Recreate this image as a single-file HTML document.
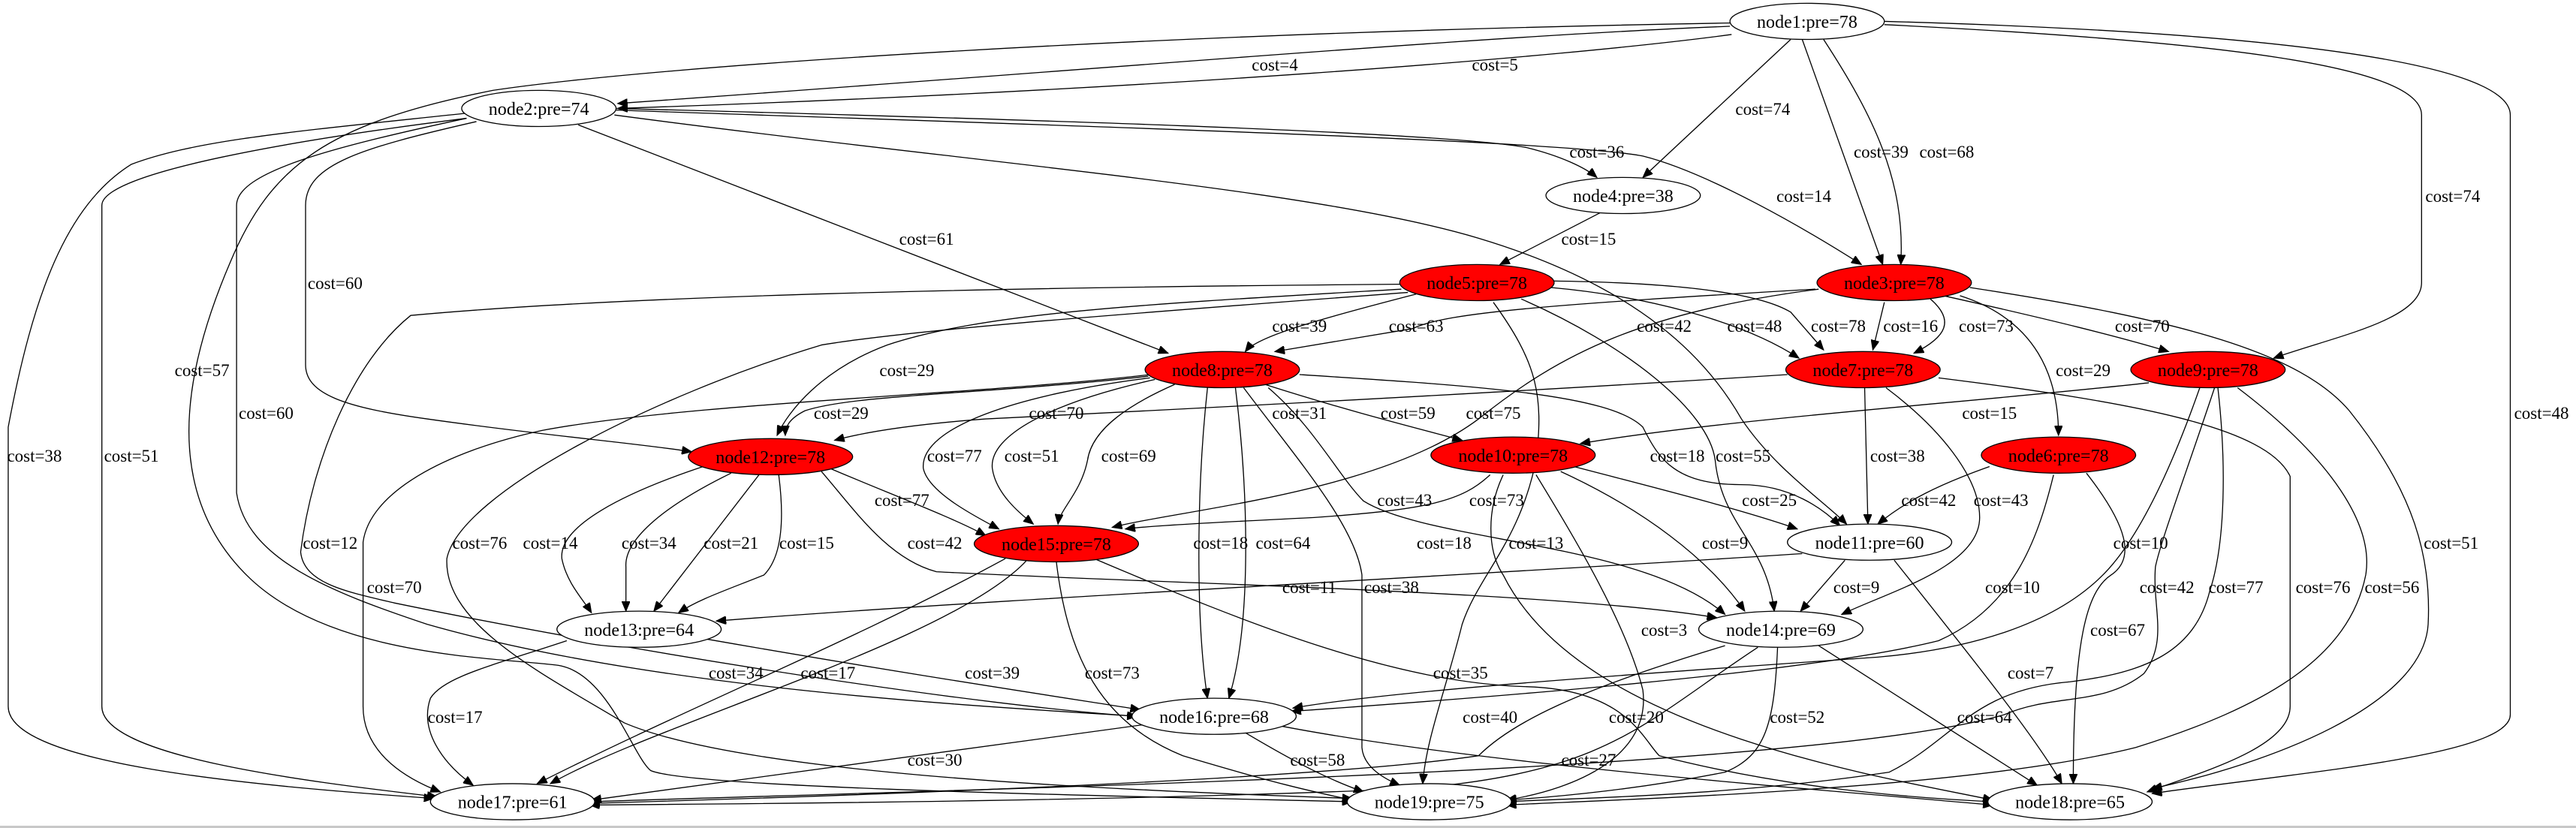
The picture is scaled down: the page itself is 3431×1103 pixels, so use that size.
<!DOCTYPE html>
<html><head><meta charset="utf-8"><style>
html,body{margin:0;padding:0;background:#fff;width:3431px;height:1103px;overflow:hidden}
svg{display:block}
text{font-family:"Liberation Serif",serif;fill:#000}
.l{font-size:10.5px;text-anchor:middle}
.n{font-size:11px;text-anchor:middle}
path{fill:none;stroke:#000;stroke-width:0.6}
ellipse{stroke:#000;stroke-width:0.6}
</style></head><body>
<svg width="3431" height="1103" viewBox="0 0 1568 504" preserveAspectRatio="none" xmlns="http://www.w3.org/2000/svg">
<defs><marker id="a" markerUnits="userSpaceOnUse" markerWidth="7" markerHeight="5" refX="6" refY="2.5" orient="auto"><path d="M0,0 L6,2.5 L0,5 Z" style="fill:#000;stroke:#000;stroke-width:0.5"/></marker></defs>
<rect x="0" y="502.6" width="1568" height="1.4" fill="#c8c8c8"/>
<g marker-end="url(#a)">
<path d="M1053,16 C900,22 700,40 376,63"/>
<path d="M1054,21 C950,35 700,55 376,66"/>
<path d="M1053,14 C700,20 400,40 300,55 C200,75 165,100 140,160 C110,230 100,300 150,350 C200,400 300,400 340,405 C370,410 385,460 396,469 C420,480 700,485 823,488"/>
<path d="M1090,24 L1000,108"/>
<path d="M1097,24 L1146,161"/>
<path d="M1110,24 C1140,70 1160,110 1157,161"/>
<path d="M1147,15 C1350,25 1474,40 1474,70 L1474,172 C1474,195 1420,205 1384,218"/>
<path d="M1147,13 C1400,20 1528,40 1528,70 L1528,435 C1528,460 1400,470 1310,483"/>
<path d="M375,66 C600,72 880,80 930,90 C950,95 965,102 972,108"/>
<path d="M375,67 C600,75 950,85 1000,95 C1040,105 1100,140 1133,161"/>
<path d="M352,76 L711,215"/>
<path d="M290,74 C220,90 186,100 186,125 L186,222 C186,240 210,248 260,255 C330,265 390,270 421,275"/>
<path d="M284,72 C200,90 144,105 144,125 L144,300 C150,340 200,360 260,380 C400,420 600,430 692,436"/>
<path d="M283,69 C180,80 120,85 80,100 C40,125 20,180 5,260 L5,430 C5,465 150,478 264,486"/>
<path d="M284,72 C180,85 62,105 62,125 L62,430 C62,460 180,475 266,485"/>
<path d="M374,70 C600,100 800,115 900,145 C1000,175 1040,220 1060,255 C1080,285 1110,305 1124,319"/>
<path d="M975,129 L913,161"/>
<path d="M862,179 C800,195 765,205 758,214"/>
<path d="M1105,176 C950,185 880,190 860,200 L776,214"/>
<path d="M944,175 C1000,180 1060,195 1095,218"/>
<path d="M944,171 C1020,172 1070,178 1090,190 L1110,213"/>
<path d="M1147,184 L1140,213"/>
<path d="M1175,182 C1190,195 1185,205 1165,215"/>
<path d="M1183,180 C1250,195 1290,205 1320,214"/>
<path d="M1193,180 C1240,195 1253,230 1253,265"/>
<path d="M853,176 C700,185 600,190 540,210 C500,225 480,250 473,265"/>
<path d="M852,173 C600,175 380,180 250,192 C215,220 190,280 183,336 C185,355 210,360 240,367 C400,400 600,430 692,436"/>
<path d="M857,178 C700,190 560,200 500,210 C400,240 280,300 272,340 C270,380 330,410 380,440 C450,470 650,480 823,486"/>
<path d="M926,182 C990,210 1040,250 1044,280 C1048,320 1075,330 1080,372"/>
<path d="M909,184 C935,220 940,240 935,280 C925,330 900,350 890,380 C880,420 868,450 866,477"/>
<path d="M1107,176 C1000,190 950,215 900,255 C840,300 720,310 677,321"/>
<path d="M699,229 C600,240 520,240 490,250 C480,255 478,260 478,265"/>
<path d="M1088,228 C900,240 700,250 600,255 C560,258 530,262 508,268"/>
<path d="M700,230 C620,240 560,260 562,285 C565,300 595,315 608,322"/>
<path d="M703,231 C640,245 602,265 604,285 C606,300 620,312 629,319"/>
<path d="M715,234 C690,245 665,260 662,280 C658,300 645,310 644,319"/>
<path d="M505,285 C540,300 580,315 600,326"/>
<path d="M500,287 C520,310 540,340 570,348 C700,355 950,360 1045,376"/>
<path d="M735,236 C728,300 728,380 735,425"/>
<path d="M752,236 C760,300 762,380 748,425"/>
<path d="M757,236 C790,280 825,320 829,350 L829,455 C830,468 845,475 852,478"/>
<path d="M770,234 C820,250 860,260 890,268"/>
<path d="M772,236 C800,260 815,290 830,305 C870,330 1000,330 1050,374"/>
<path d="M700,228 C600,240 420,245 330,262 C270,275 225,300 221,330 L221,430 C221,460 250,475 268,482"/>
<path d="M791,228 C900,235 980,240 1000,260 C1010,280 1020,295 1060,295 C1090,295 1110,310 1120,320"/>
<path d="M1135,236 L1137,319"/>
<path d="M1148,236 C1180,260 1205,290 1205,315 C1205,345 1150,360 1121,374"/>
<path d="M1180,230 C1300,245 1380,260 1394,290 L1394,430 C1394,455 1340,470 1307,482"/>
<path d="M1199,175 C1330,195 1400,215 1430,250 C1470,300 1480,340 1478,380 C1475,430 1380,465 1310,480"/>
<path d="M1308,233 C1200,245 1050,255 962,270"/>
<path d="M1339,236 C1320,290 1300,330 1280,350 C1250,380 1200,395 1143,400 C1000,410 850,420 787,431"/>
<path d="M1348,236 C1330,290 1315,330 1312,345 C1310,370 1320,390 1305,410 C1280,430 1250,422 1220,435 C1100,470 600,480 359,488"/>
<path d="M1350,236 C1355,280 1355,330 1345,360 C1335,400 1300,410 1260,415 C1200,420 1190,450 1150,470 C1050,485 950,486 917,488"/>
<path d="M1362,236 C1420,280 1445,320 1440,350 C1430,400 1380,430 1300,455 C1200,480 1000,486 917,490"/>
<path d="M428,284 C380,300 340,320 342,340 C345,355 355,365 360,373"/>
<path d="M445,288 C400,310 380,330 381,345 L381,372"/>
<path d="M462,289 L398,372"/>
<path d="M474,289 C478,320 475,340 465,350 C440,360 425,365 413,373"/>
<path d="M907,289 C890,305 870,310 800,315 C740,318 700,320 685,322"/>
<path d="M958,284 C1000,295 1060,310 1094,322"/>
<path d="M950,287 C1000,310 1040,340 1062,372"/>
<path d="M935,289 C960,330 990,380 1000,420 C1005,460 960,480 917,487"/>
<path d="M915,289 C905,310 905,335 915,350 C940,400 1000,430 1060,450 C1120,470 1180,480 1213,487"/>
<path d="M1211,284 C1180,295 1160,305 1143,319"/>
<path d="M1250,289 C1240,330 1225,370 1180,390 C1100,410 900,425 786,433"/>
<path d="M1270,288 C1295,320 1300,340 1285,350 C1270,360 1262,390 1262,477"/>
<path d="M612,340 C520,390 420,430 327,477"/>
<path d="M625,341 C580,390 400,440 335,477"/>
<path d="M643,342 C650,400 670,440 720,460 C780,478 800,482 823,487"/>
<path d="M666,340 C760,380 850,416 930,418 C990,420 1000,450 1010,460 C1080,478 1150,485 1213,488"/>
<path d="M1097,337 C900,350 600,365 436,378"/>
<path d="M1123,341 L1096,372"/>
<path d="M1153,341 C1200,400 1240,450 1255,477"/>
<path d="M345,390 C300,405 270,412 262,425 C255,445 270,465 288,478"/>
<path d="M430,389 C550,410 650,425 694,432"/>
<path d="M1050,393 C960,420 920,440 900,460 C800,475 500,485 359,489"/>
<path d="M1070,394 C1000,440 980,470 860,480 C700,487 500,489 359,490"/>
<path d="M1082,394 C1080,440 1075,460 1050,470 C1000,480 950,485 917,487"/>
<path d="M1107,393 L1240,478"/>
<path d="M697,441 C550,460 450,475 360,487"/>
<path d="M758,446 C790,465 810,475 830,482"/>
<path d="M780,442 C900,465 1100,480 1213,490"/>
</g>
<g>
<ellipse cx="1100" cy="13" rx="47" ry="11" fill="#fff"/><text class="n" x="1100" y="17">node1:pre=78</text>
<ellipse cx="328" cy="66" rx="47" ry="11" fill="#fff"/><text class="n" x="328" y="70">node2:pre=74</text>
<ellipse cx="988" cy="119" rx="47" ry="11" fill="#fff"/><text class="n" x="988" y="123">node4:pre=38</text>
<ellipse cx="1153" cy="172" rx="47" ry="11" fill="#f00"/><text class="n" x="1153" y="176">node3:pre=78</text>
<ellipse cx="899" cy="172" rx="47" ry="11" fill="#f00"/><text class="n" x="899" y="176">node5:pre=78</text>
<ellipse cx="744" cy="225" rx="47" ry="11" fill="#f00"/><text class="n" x="744" y="229">node8:pre=78</text>
<ellipse cx="1134" cy="225" rx="47" ry="11" fill="#f00"/><text class="n" x="1134" y="229">node7:pre=78</text>
<ellipse cx="1344" cy="225" rx="47" ry="11" fill="#f00"/><text class="n" x="1344" y="229">node9:pre=78</text>
<ellipse cx="469" cy="278" rx="50" ry="11" fill="#f00"/><text class="n" x="469" y="282">node12:pre=78</text>
<ellipse cx="921" cy="277" rx="50" ry="11" fill="#f00"/><text class="n" x="921" y="281">node10:pre=78</text>
<ellipse cx="1253" cy="277" rx="47" ry="11" fill="#f00"/><text class="n" x="1253" y="281">node6:pre=78</text>
<ellipse cx="643" cy="331" rx="50" ry="11" fill="#f00"/><text class="n" x="643" y="335">node15:pre=78</text>
<ellipse cx="1138" cy="330" rx="50" ry="11" fill="#fff"/><text class="n" x="1138" y="334">node11:pre=60</text>
<ellipse cx="389" cy="383" rx="50" ry="11" fill="#fff"/><text class="n" x="389" y="387">node13:pre=64</text>
<ellipse cx="1084" cy="383" rx="50" ry="11" fill="#fff"/><text class="n" x="1084" y="387">node14:pre=69</text>
<ellipse cx="739" cy="436" rx="50" ry="11" fill="#fff"/><text class="n" x="739" y="440">node16:pre=68</text>
<ellipse cx="312" cy="488" rx="50" ry="11" fill="#fff"/><text class="n" x="312" y="492">node17:pre=61</text>
<ellipse cx="870" cy="488" rx="50" ry="11" fill="#fff"/><text class="n" x="870" y="492">node19:pre=75</text>
<ellipse cx="1260" cy="488" rx="50" ry="11" fill="#fff"/><text class="n" x="1260" y="492">node18:pre=65</text>
</g>
<g class="labels">
<text class="l" x="776" y="43">cost=4</text>
<text class="l" x="910" y="43">cost=5</text>
<text class="l" x="1073" y="70">cost=74</text>
<text class="l" x="1145" y="96">cost=39</text>
<text class="l" x="1185" y="96">cost=68</text>
<text class="l" x="1098" y="123">cost=14</text>
<text class="l" x="1493" y="123">cost=74</text>
<text class="l" x="972" y="96">cost=36</text>
<text class="l" x="564" y="149">cost=61</text>
<text class="l" x="967" y="149">cost=15</text>
<text class="l" x="204" y="176">cost=60</text>
<text class="l" x="791" y="202">cost=39</text>
<text class="l" x="862" y="202">cost=63</text>
<text class="l" x="1013" y="202">cost=42</text>
<text class="l" x="1068" y="202">cost=48</text>
<text class="l" x="1119" y="202">cost=78</text>
<text class="l" x="1163" y="202">cost=16</text>
<text class="l" x="1209" y="202">cost=73</text>
<text class="l" x="1304" y="202">cost=70</text>
<text class="l" x="123" y="229">cost=57</text>
<text class="l" x="552" y="229">cost=29</text>
<text class="l" x="1268" y="229">cost=29</text>
<text class="l" x="162" y="255">cost=60</text>
<text class="l" x="512" y="255">cost=29</text>
<text class="l" x="643" y="255">cost=70</text>
<text class="l" x="791" y="255">cost=31</text>
<text class="l" x="857" y="255">cost=59</text>
<text class="l" x="909" y="255">cost=75</text>
<text class="l" x="1211" y="255">cost=15</text>
<text class="l" x="1547" y="255">cost=48</text>
<text class="l" x="21" y="281">cost=38</text>
<text class="l" x="80" y="281">cost=51</text>
<text class="l" x="581" y="281">cost=77</text>
<text class="l" x="628" y="281">cost=51</text>
<text class="l" x="687" y="281">cost=69</text>
<text class="l" x="1021" y="281">cost=18</text>
<text class="l" x="1061" y="281">cost=55</text>
<text class="l" x="1155" y="281">cost=38</text>
<text class="l" x="549" y="308">cost=77</text>
<text class="l" x="855" y="308">cost=43</text>
<text class="l" x="911" y="308">cost=73</text>
<text class="l" x="1077" y="308">cost=25</text>
<text class="l" x="1174" y="308">cost=42</text>
<text class="l" x="1218" y="308">cost=43</text>
<text class="l" x="201" y="334">cost=12</text>
<text class="l" x="292" y="334">cost=76</text>
<text class="l" x="335" y="334">cost=14</text>
<text class="l" x="395" y="334">cost=34</text>
<text class="l" x="445" y="334">cost=21</text>
<text class="l" x="491" y="334">cost=15</text>
<text class="l" x="569" y="334">cost=42</text>
<text class="l" x="743" y="334">cost=18</text>
<text class="l" x="781" y="334">cost=64</text>
<text class="l" x="879" y="334">cost=18</text>
<text class="l" x="935" y="334">cost=13</text>
<text class="l" x="1050" y="334">cost=9</text>
<text class="l" x="1303" y="334">cost=10</text>
<text class="l" x="1492" y="334">cost=51</text>
<text class="l" x="240" y="361">cost=70</text>
<text class="l" x="797" y="361">cost=11</text>
<text class="l" x="847" y="361">cost=38</text>
<text class="l" x="1130" y="361">cost=9</text>
<text class="l" x="1225" y="361">cost=10</text>
<text class="l" x="1319" y="361">cost=42</text>
<text class="l" x="1361" y="361">cost=77</text>
<text class="l" x="1414" y="361">cost=76</text>
<text class="l" x="1456" y="361">cost=56</text>
<text class="l" x="1013" y="387">cost=3</text>
<text class="l" x="1289" y="387">cost=67</text>
<text class="l" x="448" y="413">cost=34</text>
<text class="l" x="504" y="413">cost=17</text>
<text class="l" x="604" y="413">cost=39</text>
<text class="l" x="677" y="413">cost=73</text>
<text class="l" x="889" y="413">cost=35</text>
<text class="l" x="1236" y="413">cost=7</text>
<text class="l" x="277" y="440">cost=17</text>
<text class="l" x="907" y="440">cost=40</text>
<text class="l" x="996" y="440">cost=20</text>
<text class="l" x="1094" y="440">cost=52</text>
<text class="l" x="1208" y="440">cost=64</text>
<text class="l" x="569" y="466">cost=30</text>
<text class="l" x="802" y="466">cost=58</text>
<text class="l" x="967" y="466">cost=27</text>
</g>
</svg>
</body></html>
